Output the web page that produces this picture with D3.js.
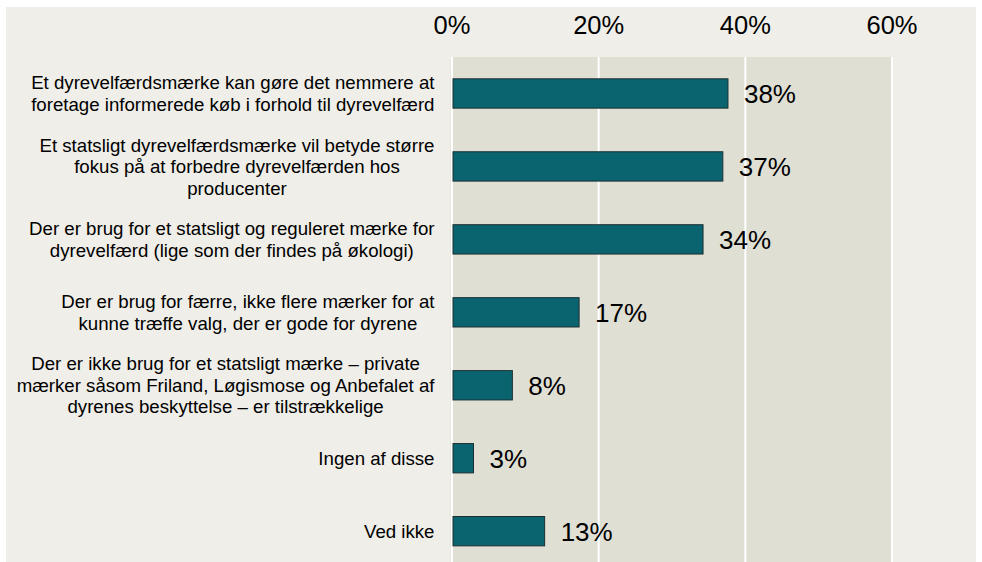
<!DOCTYPE html>
<html>
<head>
<meta charset="utf-8">
<script src="https://cdn.jsdelivr.net/npm/d3@7"></script>
<style>
  html, body { margin: 0; padding: 0; background: #ffffff; }
  svg { display: block; font-family: "Liberation Sans", Arial, sans-serif; }
</style>
</head>
<body>
<svg id="chart" width="982" height="562"></svg>
<script>
// ---- data ----
const categories = [
  "Et dyrevelfærdsmærke kan gøre det nemmere at\nforetage informerede køb i forhold til dyrevelfærd",
  "Et statsligt dyrevelfærdsmærke vil betyde større\nfokus på at forbedre dyrevelfærden hos\nproducenter",
  "Der er brug for et statsligt og reguleret mærke for\ndyrevelfærd (lige som der findes på økologi)",
  "Der er brug for færre, ikke flere mærker for at\nkunne træffe valg, der er gode for dyrene",
  "Der er ikke brug for et statsligt mærke – private\nmærker såsom Friland, Løgismose og Anbefalet af\ndyrenes beskyttelse – er tilstrækkelige",
  "Ingen af disse",
  "Ved ikke"
];
const values = [37.7, 37.0, 34.3, 17.4, 8.3, 3.0, 12.7];
const tickValues = [0, 20, 40, 60];
const tickLabels = ["0%", "20%", "40%", "60%"];

// ---- layout ----
const svg = d3.select("#chart");
const W = 982, H = 562;
const plotTop = 57, step = 72.95;

const x = d3.scaleLinear().domain([0, 60]).range([451.5, 891.5]);
const y = d3.scaleBand()
  .domain(d3.range(categories.length))
  .range([plotTop, plotTop + step * categories.length])
  .paddingInner(0.598)
  .paddingOuter(0.299);

// outer background
svg.append("rect").attr("x", 6).attr("y", 7).attr("width", 970).attr("height", H - 7)
  .attr("fill", "#efeee8");

// plot background
svg.append("rect")
  .attr("x", x(0) - 1).attr("y", plotTop)
  .attr("width", x(60) - x(0) + 1).attr("height", H - plotTop)
  .attr("fill", "#dfdfd4");

// gridlines via axis
const gridAxis = d3.axisTop(x).tickValues(tickValues).tickSize(-(H - plotTop)).tickFormat("");
const grid = svg.append("g").attr("transform", `translate(0,${plotTop})`).call(gridAxis);
grid.select(".domain").remove();
grid.selectAll(".tick line").attr("stroke", "#ffffff").attr("stroke-width", 2);

// top tick labels
const topAxis = d3.axisTop(x).tickValues(tickValues).tickSize(0)
  .tickFormat((d, i) => tickLabels[i]);
const ta = svg.append("g").attr("transform", "translate(0,34)").call(topAxis);
ta.select(".domain").remove();
ta.selectAll("text").attr("y", 0).attr("dy", 0)
  .attr("font-size", 25.5).attr("fill", "#000")
  .attr("font-family", "'Liberation Sans', Arial, sans-serif");

// bars
svg.append("g").selectAll("rect").data(values).join("rect")
  .attr("x", x(0) + 1.5)
  .attr("y", (d, i) => y(i))
  .attr("width", d => x(d) - x(0) - 1.5)
  .attr("height", y.bandwidth())
  .attr("fill", "#0a6470")
  .attr("stroke", "#1c2e31")
  .attr("stroke-width", 1);

// value labels
svg.append("g").selectAll("text").data(values).join("text")
  .attr("x", d => x(d) + 16)
  .attr("y", (d, i) => y(i) + y.bandwidth() / 2 + 10)
  .attr("font-size", 26).attr("fill", "#000")
  .text(d => Math.round(d) + "%");

// category labels: block right-aligned, lines centred within block
const lineH = 21.5, fs = 18.67, rightEdge = 434.5;
const lg = svg.append("g");
categories.forEach((c, i) => {
  const lines = c.split("\n");
  const cy = y(i) + y.bandwidth() / 2;
  const first = cy - (lines.length - 1) * lineH / 2 + 6.6;
  const t = lg.append("g");
  const texts = lines.map((ln, j) => t.append("text")
    .attr("y", first + j * lineH)
    .attr("font-size", fs).attr("fill", "#000")
    .attr("text-anchor", "middle")
    .text(ln));
  const maxW = d3.max(texts, tx => tx.node().getComputedTextLength());
  texts.forEach(tx => tx.attr("x", rightEdge - maxW / 2));
});
</script>
</body>
</html>
